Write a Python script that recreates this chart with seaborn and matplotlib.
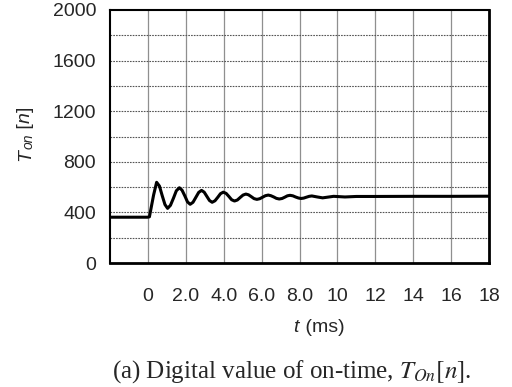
import matplotlib
matplotlib.use("Agg")
import matplotlib.pyplot as plt
import seaborn as sns
import pandas as pd
from matplotlib.ticker import MultipleLocator

# data (time in ms, digital on-time value)
t_ms = [-2.0, -0.02, 0.08, 0.30, 0.46, 0.61, 0.75, 0.90, 1.04,
        1.19, 1.35, 1.50, 1.66, 1.80, 1.95, 2.09, 2.23,
        2.38, 2.53, 2.68, 2.83, 2.97, 3.11, 3.25, 3.39,
        3.54, 3.69, 3.83, 3.98, 4.13, 4.28, 4.42, 4.57,
        4.72, 4.87, 5.02, 5.17, 5.31, 5.46, 5.60, 5.75,
        5.90, 6.05, 6.20, 6.35, 6.49, 6.64, 6.78, 6.93,
        7.08, 7.22, 7.36, 7.50, 7.65, 7.79, 7.94, 8.08,
        8.22, 8.36, 8.51, 8.65, 8.94, 9.22, 9.51, 9.80,
        10.4, 11.0, 12.0, 14.0, 16.0, 18.0]
t_on = [362, 362, 365, 537, 638, 608, 535, 462, 432,
        456, 513, 571, 595, 576, 530, 483, 464,
        480, 519, 558, 574, 560, 527, 494, 480,
        492, 520, 548, 560, 550, 525, 500, 490,
        498, 518, 537, 545, 539, 524, 509, 503,
        508, 520, 532, 537, 532, 522, 511, 506,
        510, 520, 531, 535, 531, 522, 514, 510,
        513, 520, 527, 530, 522, 515, 521, 527,
        522, 526, 526, 527, 527, 528]
x_ticks = [-2, 0, 2, 4, 6, 8, 10, 12, 14, 16, 18]
x_labels = ["", "0", "2.0", "4.0", "6.0", "8.0", "10", "12", "14", "16", "18"]
y_ticks = [0, 400, 800, 1200, 1600, 2000]

df = pd.DataFrame({"t": t_ms, "Ton": t_on})

sns.set_theme(style="white")
plt.rcParams["font.family"] = ["Liberation Sans", "DejaVu Sans"]

W, H = 512, 387
fig = plt.figure(figsize=(W / 100, H / 100), dpi=100)
ax = fig.add_axes([110 / W, 1 - 263 / H, 379 / W, 253 / H])

sns.lineplot(data=df, x="t", y="Ton", ax=ax, color="black", linewidth=2.2)

ax.set_xlim(-2, 18)
ax.set_ylim(0, 2000)
ax.set_xticks(x_ticks)
ax.set_xticklabels(x_labels, fontsize=14)
ax.set_yticks(y_ticks)
ax.set_yticklabels([str(v) for v in y_ticks], fontsize=14)
ax.yaxis.set_minor_locator(MultipleLocator(200))

ax.grid(False)
for xv in x_ticks[1:-1]:
    ax.axvline(xv, color="#8f8f8f", linewidth=0.9, zorder=0)
for yv in range(200, 2000, 200):
    ax.axhline(yv, color="#555555", linewidth=0.8, linestyle=(0, (1.5, 1)), zorder=0)

ax.tick_params(axis="both", which="both", length=0)
ax.tick_params(axis="x", pad=18)
ax.tick_params(axis="y", pad=10)

for side in ["top", "left"]:
    ax.spines[side].set_linewidth(1.5)
    ax.spines[side].set_color("black")
for side in ["bottom", "right"]:
    ax.spines[side].set_linewidth(2.0)
    ax.spines[side].set_color("black")

ax.set_xlabel("")
ax.set_ylabel("")
fig.text(298 / W, 1 - 327 / H, "t", fontsize=14, ha="right", va="center", style="italic")
fig.text(300 / W, 1 - 327 / H, " (ms)", fontsize=14, ha="left", va="center")

# rotated y label built from pieces: T (italic), "on" subscript (italic), " [n]"
renderer = fig.canvas.get_renderer()
pieces = [("T", 14, 0, "italic"), ("on", 10, 3, "italic"), (" [", 14, 0, "normal"),
          ("n", 14, 0, "italic"), ("]", 14, 0, "normal")]
ypos = 161.0
for txt, fs, shift, st in pieces:
    tt = fig.text((30 + shift) / W, 1 - ypos / H, txt, fontsize=fs, style=st,
                  rotation=90, rotation_mode="anchor", ha="left", va="baseline")
    bb = tt.get_window_extent(renderer)
    ypos -= bb.height

fig.text(292 / W, 1 - 372 / H, r"(a) Digital value of on-time, $T_{On}[n]$.",
         fontsize=18, ha="center", va="center", family="Liberation Serif",
         math_fontfamily="stix")

fig.savefig("out.png", dpi=100)
